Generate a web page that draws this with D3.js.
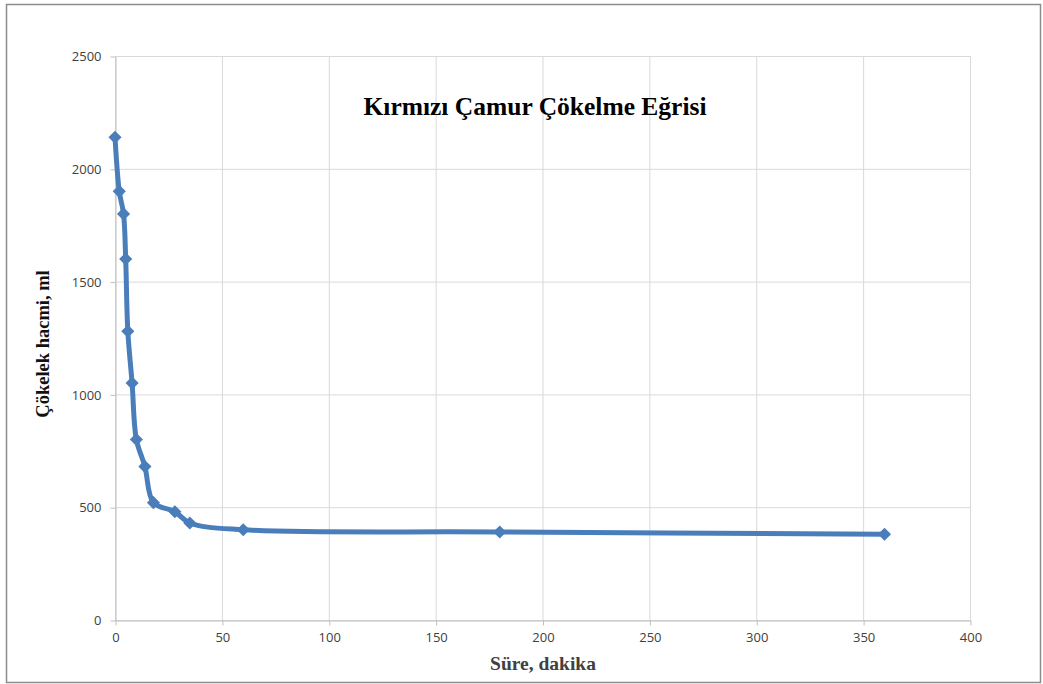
<!DOCTYPE html>
<html>
<head>
<meta charset="utf-8">
<script src="https://cdn.jsdelivr.net/npm/d3@7"></script>
<style>
  body { margin: 0; background: #fff; }
  svg { display: block; }
</style>
</head>
<body>
<script>
const width = 1043;
const height = 684;

// chart data
const times = [0, 2, 4, 5, 6, 8, 10, 14, 18, 28, 35, 60, 180, 360];
const volumes = [2140, 1900, 1800, 1600, 1280, 1050, 800, 680, 520, 480, 430, 400, 390, 380];
const xTicks = [0, 50, 100, 150, 200, 250, 300, 350, 400];
const yTicks = [0, 500, 1000, 1500, 2000, 2500];

const title = "Kırmızı Çamur Çökelme Eğrisi";
const xTitle = "Süre, dakika";
const yTitle = "Çökelek hacmi, ml";

const plot = { left: 115, right: 970, top: 56, bottom: 620 };

let svg = d3.select('body')
            .append('svg')
            .attr('width', width)
            .attr('height', height);

// outer chart border
svg.append('rect')
   .attr('x', 6.5)
   .attr('y', 4.5)
   .attr('width', 1034)
   .attr('height', 678)
   .attr('fill', '#fff')
   .attr('stroke', '#8c8c8c')
   .attr('stroke-width', 1.5);

let xScale = d3.scaleLinear()
               .domain([0, 400])
               .range([plot.left, plot.right]);

let yScale = d3.scaleLinear()
               .domain([0, 2500])
               .range([plot.bottom, plot.top]);

// gridlines
svg.append('g')
   .selectAll('line.vgrid')
   .data(xTicks)
   .enter()
   .append('line')
   .attr('x1', d => xScale(d) + 0.5)
   .attr('x2', d => xScale(d) + 0.5)
   .attr('y1', plot.top)
   .attr('y2', plot.bottom)
   .attr('stroke', '#d9d9d9');

svg.append('g')
   .selectAll('line.hgrid')
   .data(yTicks)
   .enter()
   .append('line')
   .attr('x1', plot.left)
   .attr('x2', plot.right)
   .attr('y1', d => yScale(d) + 0.5)
   .attr('y2', d => yScale(d) + 0.5)
   .attr('stroke', '#d9d9d9');

let xAxis = d3.axisBottom(xScale)
              .tickValues(xTicks)
              .tickFormat(d3.format('d'))
              .tickSize(5)
              .tickSizeOuter(0)
              .tickPadding(7);
let gx = svg.append('g')
   .attr('transform', `translate(0.5, ${plot.bottom + 0.5})`)
   .call(xAxis);

let yAxis = d3.axisLeft(yScale)
              .tickValues(yTicks)
              .tickFormat(d3.format('d'))
              .tickSize(5)
              .tickSizeOuter(0)
              .tickPadding(9);
let gy = svg.append('g')
   .attr('transform', `translate(${plot.left + 0.5}, 0.5)`)
   .call(yAxis);

[gx, gy].forEach(g => {
    g.select('.domain').attr('stroke', '#bfbfbf');
    g.selectAll('.tick line').attr('stroke', '#bfbfbf');
    g.selectAll('.tick text')
     .attr('fill', '#404040')
     .style('font-family', "'Open Sans', 'Liberation Sans', sans-serif")
     .style('font-size', '13px');
});

// series
let points = times.map((t, i) => [t, volumes[i]]);

let line = d3.line()
             .x(d => xScale(d[0]))
             .y(d => yScale(d[1]))
             .curve(d3.curveCatmullRom.alpha(0.5));

svg.append('path')
   .datum(points)
   .attr('d', line)
   .attr('fill', 'none')
   .attr('stroke', '#4a7ebb')
   .attr('stroke-width', 5)
   .attr('stroke-linejoin', 'round');

svg.selectAll('path.marker')
   .data(points)
   .enter()
   .append('path')
   .attr('class', 'marker')
   .attr('d', d3.symbol().type(d3.symbolDiamond2).size(110))
   .attr('transform', d => `translate(${xScale(d[0])}, ${yScale(d[1])})`)
   .attr('fill', '#4a7ebb');

// titles
svg.append('text')
   .attr('x', 535)
   .attr('y', 115)
   .attr('text-anchor', 'middle')
   .style('font-family', "'Liberation Serif', serif")
   .style('font-weight', 'bold')
   .style('font-size', '25.5px')
   .attr('fill', '#000')
   .text(title);

svg.append('text')
   .attr('x', 543)
   .attr('y', 670)
   .attr('text-anchor', 'middle')
   .style('font-family', "'Liberation Serif', serif")
   .style('font-weight', 'bold')
   .style('font-size', '19.5px')
   .attr('fill', '#404040')
   .text(xTitle);

svg.append('text')
   .attr('transform', 'translate(49, 344) rotate(-90)')
   .attr('text-anchor', 'middle')
   .style('font-family', "'Liberation Serif', serif")
   .style('font-weight', 'bold')
   .style('font-size', '18.5px')
   .attr('fill', '#111')
   .text(yTitle);
</script>
</body>
</html>
